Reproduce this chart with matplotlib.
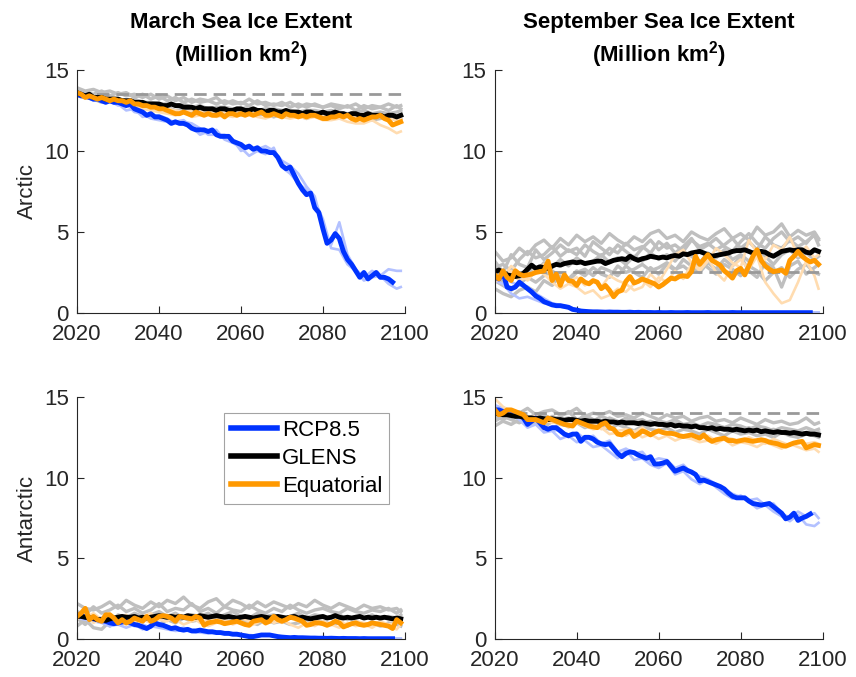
import numpy as np
import matplotlib
matplotlib.use("Agg")
import matplotlib.pyplot as plt

plt.rcParams["font.family"] = ["Liberation Sans", "DejaVu Sans"]
plt.rcParams["mathtext.fontset"] = "custom"
plt.rcParams["mathtext.rm"] = "Liberation Sans"
plt.rcParams["mathtext.bf"] = "Liberation Sans:bold"

# years for ensemble means, the rcp mean (stops early) and the individual members
years = np.arange(2020, 2100)
rcp_years = np.arange(2020, 2098)
member_years = np.array(list(range(2020, 2099, 2)) + [2099])

# ---------------- march, arctic ----------------
mar_arc_rcp = [13.5, 13.4, 13.4, 13.3, 13.2, 13.2, 13.1, 13.0, 13.1, 13.0,
               13.0, 12.9, 12.8, 12.9, 12.6, 12.5, 12.4, 12.2, 12.3, 12.1,
               12.1, 12.0, 11.9, 11.7, 11.8, 11.7, 11.7, 11.6, 11.4, 11.3,
               11.3, 11.3, 11.2, 11.3, 11.0, 10.9, 10.9, 10.9, 10.6, 10.5,
               10.4, 10.2, 10.3, 10.1, 10.2, 10.0, 10.0, 9.9, 9.9, 9.6,
               9.1, 8.9, 9.0, 8.5, 8.0, 7.6, 7.3, 7.4, 6.5, 6.2,
               5.2, 4.3, 4.5, 4.9, 4.6, 3.8, 3.3, 3.0, 2.6, 2.2,
               2.5, 2.1, 2.3, 2.5, 2.2, 2.2, 2.1, 1.9]
mar_arc_glens = [13.6, 13.5, 13.4, 13.5, 13.3, 13.3, 13.3, 13.2, 13.2, 13.2,
                 13.2, 13.1, 13.1, 13.1, 13.0, 13.0, 13.0, 12.9, 12.9, 12.9,
                 12.9, 12.8, 12.8, 12.9, 12.8, 12.8, 12.7, 12.7, 12.7, 12.6,
                 12.7, 12.6, 12.6, 12.6, 12.5, 12.6, 12.6, 12.5, 12.5, 12.6,
                 12.6, 12.5, 12.5, 12.6, 12.5, 12.5, 12.4, 12.5, 12.5, 12.4,
                 12.4, 12.5, 12.4, 12.4, 12.4, 12.3, 12.4, 12.4, 12.3, 12.3,
                 12.4, 12.3, 12.3, 12.4, 12.3, 12.3, 12.2, 12.3, 12.3, 12.2,
                 12.2, 12.3, 12.2, 12.2, 12.2, 12.1, 12.2, 12.2, 12.1, 12.2]
mar_arc_eq = [13.6, 13.5, 13.3, 13.4, 13.3, 13.2, 13.3, 13.2, 13.1, 13.2,
              13.1, 13.1, 13.0, 13.1, 12.9, 12.9, 12.8, 12.8, 12.7, 12.7,
              12.6, 12.6, 12.5, 12.4, 12.3, 12.3, 12.4, 12.3, 12.2, 12.4,
              12.3, 12.2, 12.3, 12.2, 12.2, 12.3, 12.1, 12.3, 12.3, 12.2,
              12.3, 12.2, 12.3, 12.2, 12.3, 12.4, 12.2, 12.2, 12.3, 12.2,
              12.1, 12.3, 12.2, 12.2, 12.1, 12.2, 12.1, 12.2, 12.2, 12.1,
              12.0, 12.0, 12.1, 12.1, 12.2, 12.1, 12.2, 12.0, 11.9, 12.0,
              11.9, 12.0, 12.1, 12.1, 12.2, 12.0, 11.9, 11.6, 11.7, 11.8]
mar_arc_rcp_members = [
    [13.7, 13.5, 13.3, 13.0, 13.1, 12.8, 12.9, 12.4, 12.3, 12.0,
     11.9, 11.8, 11.8, 11.9, 11.5, 11.0, 11.2, 11.3, 10.7, 10.5,
     10.2, 9.7, 10.0, 9.8, 10.2, 9.0, 8.6, 8.0, 7.6, 6.9,
     5.8, 4.0, 3.9, 3.0, 2.6, 2.0, 2.2, 2.3, 1.8, 1.5, 1.6],
    [13.6, 13.4, 13.1, 13.2, 13.0, 12.9, 12.5, 12.6, 12.1, 12.2,
     12.2, 12.0, 11.7, 11.8, 11.7, 11.4, 11.0, 11.0, 11.0, 10.7,
     10.0, 10.2, 10.1, 10.3, 10.0, 9.4, 9.1, 8.6, 7.8, 7.2,
     5.3, 4.2, 5.6, 3.6, 2.7, 2.2, 2.6, 2.3, 2.7, 2.6, 2.6],
]
mar_arc_eq_members = [
    [13.7, 13.4, 13.3, 13.2, 13.0, 13.1, 12.9, 12.7, 12.6, 12.5,
     12.4, 12.3, 12.2, 12.4, 12.1, 12.2, 12.3, 12.1, 12.2, 12.1,
     12.2, 12.3, 12.1, 12.0, 12.2, 12.1, 12.0, 12.1, 12.0, 12.1,
     11.9, 11.9, 12.0, 11.8, 11.7, 11.7, 11.9, 11.6, 11.4, 11.1, 11.2],
    [13.5, 13.3, 13.4, 13.2, 13.3, 13.1, 13.1, 13.0, 12.9, 12.8,
     12.7, 12.6, 12.5, 12.4, 12.5, 12.4, 12.5, 12.3, 12.4, 12.5,
     12.4, 12.3, 12.4, 12.5, 12.3, 12.4, 12.3, 12.4, 12.2, 12.3,
     12.2, 12.3, 12.2, 12.3, 12.1, 12.2, 12.2, 12.1, 12.0, 11.9, 12.0],
]
mar_arc_glens_members = [
    [13.8, 13.6, 13.5, 13.7, 13.4, 13.6, 13.4, 13.5, 13.3, 13.5,
     13.2, 13.4, 13.1, 13.3, 13.0, 13.2, 13.1, 13.3, 12.9, 13.1,
     12.9, 13.2, 12.9, 13.0, 12.8, 13.0, 12.7, 12.9, 12.7, 12.9,
     12.7, 12.8, 12.6, 12.8, 12.5, 12.8, 12.6, 12.7, 12.5, 12.8, 12.6],
    [13.4, 13.3, 13.2, 13.0, 13.1, 12.9, 13.0, 12.8, 12.7, 12.8,
     12.6, 12.7, 12.5, 12.6, 12.4, 12.5, 12.3, 12.5, 12.3, 12.4,
     12.2, 12.4, 12.2, 12.3, 12.1, 12.3, 12.2, 12.2, 12.0, 12.2,
     12.1, 12.0, 12.1, 12.2, 12.0, 12.1, 11.9, 12.0, 12.1, 11.9, 12.0],
    [13.6, 13.5, 13.4, 13.3, 13.3, 13.2, 13.1, 13.2, 13.0, 13.0,
     12.9, 12.9, 12.8, 12.9, 12.7, 12.8, 12.6, 12.7, 12.7, 12.6,
     12.6, 12.7, 12.5, 12.6, 12.6, 12.5, 12.5, 12.4, 12.5, 12.5,
     12.4, 12.5, 12.4, 12.3, 12.4, 12.5, 12.3, 12.4, 12.3, 12.4, 12.5],
    [13.9, 13.7, 13.8, 13.6, 13.7, 13.5, 13.6, 13.3, 13.5, 13.2,
     13.4, 13.1, 13.3, 13.0, 13.2, 13.0, 13.1, 12.9, 13.1, 12.9,
     13.0, 12.8, 13.1, 12.8, 12.9, 12.8, 13.0, 12.7, 12.9, 12.8,
     12.7, 12.9, 12.8, 12.7, 12.9, 12.6, 12.8, 12.7, 12.9, 12.7, 12.8],
]

# ---------------- september, arctic ----------------
sep_arc_rcp = [2.2, 2.1, 2.5, 1.6, 1.5, 1.6, 1.9, 1.7, 1.5, 1.3,
               1.05, 0.9, 0.7, 0.6, 0.5, 0.45, 0.45, 0.4, 0.35, 0.22,
               0.18, 0.12, 0.1, 0.08, 0.07, 0.07, 0.06, 0.05, 0.06, 0.05,
               0.05, 0.04, 0.04, 0.05, 0.03, 0.04, 0.03, 0.03, 0.03, 0.02,
               0.03, 0.02, 0.02, 0.03, 0.02, 0.02, 0.02, 0.03, 0.02, 0.02,
               0.02, 0.02, 0.03, 0.02, 0.02, 0.02, 0.02, 0.02, 0.03, 0.02,
               0.02, 0.02, 0.02, 0.02, 0.02, 0.02, 0.02, 0.02, 0.02, 0.02,
               0.02, 0.02, 0.02, 0.02, 0.02, 0.02, 0.02, 0.02]
sep_arc_glens = [2.55, 2.65, 2.5, 2.35, 2.3, 2.25, 2.3, 2.45, 2.7, 2.95,
                 2.75, 2.85, 2.8, 2.75, 2.9, 3.0, 2.95, 3.05, 3.1, 3.15,
                 3.1, 3.15, 3.05, 3.1, 3.15, 3.2, 3.2, 3.05, 3.15, 3.25,
                 3.3, 3.35, 3.3, 3.5, 3.35, 3.25, 3.35, 3.4, 3.5, 3.45,
                 3.4, 3.45, 3.4, 3.5, 3.55, 3.5, 3.65, 3.6, 3.7, 3.75,
                 3.8, 3.7, 3.6, 3.5, 3.55, 3.6, 3.65, 3.7, 3.8, 3.85,
                 3.85, 3.9, 3.8, 3.7, 3.75, 3.8, 3.75, 3.6, 3.5, 3.65,
                 3.8, 3.85, 3.9, 3.85, 3.9, 3.9, 3.75, 3.7, 3.9, 3.8]
sep_arc_eq = [2.35, 2.1, 2.6, 2.2, 2.0, 2.6, 2.4, 2.3, 2.35, 2.4,
              2.5, 2.55, 2.6, 3.2, 2.0, 2.4, 1.7, 2.35, 2.0, 1.95,
              1.7, 2.1, 1.9, 1.8, 2.0, 1.9, 1.5, 1.7, 1.4, 1.0,
              1.3, 1.4, 1.95, 2.25, 1.85, 1.95, 2.1, 2.0, 1.9, 1.8,
              1.6, 1.75, 1.95, 2.15, 2.1, 2.25, 2.3, 2.25, 2.55, 3.5,
              3.0, 3.3, 3.6, 3.25, 3.1, 2.95, 2.6, 2.4, 2.15, 2.6,
              2.75, 2.35, 2.9, 3.5, 3.9, 3.25, 2.9, 2.7, 2.55, 2.6,
              2.65, 2.45, 3.25, 3.5, 3.8, 3.5, 3.3, 3.15, 3.25, 3.0]
sep_arc_rcp_members = [
    [2.0, 1.8, 1.2, 0.9, 1.0, 0.8, 0.6, 0.5, 0.4, 0.3,
     0.15, 0.1, 0.08, 0.05, 0.05, 0.04, 0.04, 0.03, 0.03, 0.03,
     0.03, 0.03, 0.03, 0.03, 0.03, 0.03, 0.03, 0.03, 0.03, 0.03,
     0.03, 0.03, 0.03, 0.03, 0.03, 0.03, 0.03, 0.03, 0.03, 0.03, 0.03],
    [2.4, 2.6, 1.9, 1.7, 1.6, 1.2, 0.9, 0.6, 0.5, 0.4,
     0.2, 0.15, 0.1, 0.06, 0.05, 0.05, 0.04, 0.04, 0.04, 0.04,
     0.04, 0.04, 0.04, 0.04, 0.04, 0.04, 0.04, 0.04, 0.04, 0.04,
     0.04, 0.04, 0.04, 0.04, 0.04, 0.04, 0.04, 0.04, 0.04, 0.04, 0.04],
]
sep_arc_eq_members = [
    [1.9, 2.4, 2.6, 2.0, 2.2, 2.7, 2.4, 1.9, 1.5, 1.8,
     1.6, 1.2, 1.4, 0.9, 1.1, 1.5, 1.3, 1.8, 2.0, 1.6,
     2.2, 1.9, 2.6, 2.1, 3.0, 2.8, 3.4, 2.5, 2.0, 2.9,
     3.3, 2.7, 3.5, 1.9, 1.2, 0.6, 0.8, 1.9, 3.2, 2.3, 1.5],
    [2.6, 2.2, 2.9, 2.5, 2.0, 2.6, 3.0, 2.2, 2.5, 1.9,
     2.2, 1.7, 2.0, 1.6, 2.3, 2.0, 1.8, 1.4, 1.6, 2.4,
     1.9, 2.7, 3.6, 3.9, 3.1, 2.6, 3.2, 4.0, 3.6, 3.1,
     2.8, 4.5, 3.7, 3.3, 4.2, 3.9, 4.7, 3.5, 4.1, 3.4, 3.6],
]
sep_arc_glens_members = [
    [3.8, 3.2, 3.4, 4.0, 3.6, 4.2, 4.5, 4.0, 4.6, 4.2,
     4.8, 4.4, 4.7, 4.3, 4.9, 4.5, 4.2, 4.7, 4.4, 4.9,
     5.1, 4.6, 4.8, 4.4, 5.0, 4.7, 4.5, 4.9, 5.2, 4.6,
     4.9, 4.5, 5.3, 4.8, 5.0, 5.5, 4.7, 5.1, 4.8, 5.0, 4.6],
    [2.8, 3.0, 2.6, 3.3, 3.8, 3.4, 3.6, 4.1, 3.5, 3.9,
     3.6, 4.2, 3.8, 3.5, 4.0, 3.7, 4.3, 3.9, 4.1, 3.7,
     4.4, 4.0, 4.2, 3.8, 4.5, 4.1, 4.3, 3.9, 4.2, 4.6,
     4.0, 4.4, 3.9, 4.7, 4.2, 4.0, 4.5, 4.1, 4.4, 4.8, 4.2],
    [2.2, 1.9, 2.4, 2.1, 2.7, 2.5, 3.1, 2.8, 3.3, 2.9,
     3.4, 3.0, 3.2, 3.6, 3.1, 3.4, 3.0, 3.5, 3.2, 3.7,
     3.3, 3.6, 3.2, 3.8, 3.5, 3.1, 3.7, 3.4, 3.9, 3.3,
     3.6, 3.2, 3.8, 3.5, 3.0, 3.6, 3.9, 3.4, 3.7, 3.3, 3.5],
    [1.5, 1.2, 1.0, 1.4, 1.6, 1.3, 2.0, 1.7, 2.4, 2.1,
     2.6, 2.3, 2.8, 2.4, 2.2, 2.9, 2.5, 2.7, 3.0, 2.6,
     2.8, 3.1, 2.7, 2.9, 2.5, 3.2, 2.8, 2.4, 3.0, 2.7,
     2.3, 2.9, 2.6, 2.0, 2.5, 2.8, 2.2, 2.7, 3.0, 2.5, 2.4],
    [3.2, 2.5, 3.6, 3.0, 2.8, 3.9, 3.3, 3.7, 4.2, 3.8,
     4.0, 3.5, 4.4, 4.0, 3.6, 4.2, 3.8, 3.4, 4.0, 4.5,
     3.9, 4.3, 3.7, 4.1, 4.6, 3.9, 4.2, 4.6, 4.1, 3.8,
     4.4, 4.9, 4.3, 4.0, 4.6, 5.0, 4.4, 4.7, 4.3, 4.9, 4.5],
    [2.0, 1.7, 1.4, 1.8, 2.2, 1.9, 2.3, 2.6, 2.2, 2.0,
     2.5, 2.7, 2.3, 2.8, 2.6, 2.3, 2.9, 2.5, 2.2, 2.8,
     2.4, 3.0, 2.6, 3.3, 2.9, 2.5, 3.1, 2.7, 3.3, 2.9,
     3.5, 2.6, 2.2, 3.1, 2.8, 1.6, 2.9, 3.2, 2.4, 2.8, 3.0],
]

# ---------------- march, antarctic ----------------
mar_ant_rcp = [1.5, 1.45, 1.35, 1.3, 1.25, 1.2, 1.15, 1.1, 1.0, 0.95,
               1.0, 1.05, 1.1, 1.0, 0.9, 0.85, 0.75, 0.65, 0.8, 1.0,
               0.9, 0.85, 0.75, 0.65, 0.7, 0.6, 0.55, 0.6, 0.5, 0.5,
               0.55, 0.5, 0.45, 0.45, 0.4, 0.4, 0.35, 0.35, 0.3, 0.3,
               0.25, 0.2, 0.15, 0.15, 0.2, 0.25, 0.25, 0.25, 0.2, 0.15,
               0.12, 0.1, 0.08, 0.1, 0.08, 0.08, 0.07, 0.06, 0.06, 0.05,
               0.05, 0.04, 0.05, 0.04, 0.03, 0.04, 0.03, 0.03, 0.03, 0.02,
               0.03, 0.02, 0.02, 0.02, 0.02, 0.02, 0.02, 0.02]
mar_ant_glens = [1.4, 1.4, 1.35, 1.3, 1.3, 1.2, 1.2, 1.15, 1.25, 1.3,
                 1.35, 1.4, 1.35, 1.35, 1.4, 1.3, 1.35, 1.3, 1.35, 1.4,
                 1.45, 1.4, 1.35, 1.4, 1.35, 1.4, 1.35, 1.45, 1.4, 1.35,
                 1.45, 1.4, 1.35, 1.4, 1.45, 1.4, 1.35, 1.4, 1.35, 1.3,
                 1.35, 1.4, 1.35, 1.3, 1.35, 1.4, 1.35, 1.3, 1.35, 1.4,
                 1.35, 1.3, 1.35, 1.4, 1.3, 1.35, 1.3, 1.25, 1.3, 1.35,
                 1.4, 1.3, 1.35, 1.45, 1.35, 1.3, 1.35, 1.3, 1.35, 1.4,
                 1.3, 1.35, 1.3, 1.35, 1.3, 1.35, 1.3, 1.25, 1.3, 1.25]
mar_ant_eq = [1.4, 1.6, 1.9, 1.2, 1.4, 1.2, 1.1, 1.5, 1.5, 1.3,
              1.0, 1.2, 1.0, 1.1, 1.3, 1.2, 1.1, 1.4, 1.1, 1.2,
              1.4, 1.45, 1.4, 1.3, 1.1, 1.4, 1.35, 1.3, 1.25, 1.4,
              1.3, 0.85, 1.0, 1.05, 1.1, 1.05, 0.95, 1.0, 1.05, 1.1,
              1.0, 0.9, 0.85, 1.1, 1.15, 1.2, 1.0, 1.1, 1.4, 1.2,
              1.1, 1.2, 1.35, 1.3, 1.2, 1.1, 0.85, 0.9, 1.0, 1.0,
              0.95, 0.85, 0.95, 1.1, 1.0, 0.75, 0.85, 0.95, 1.0, 0.9,
              0.85, 0.9, 1.0, 0.95, 0.9, 0.85, 0.8, 0.65, 1.2, 1.0]
mar_ant_rcp_members = [
    [1.3, 1.2, 1.1, 1.0, 0.8, 0.9, 0.7, 0.9, 0.6, 0.8,
     0.7, 0.6, 0.5, 0.55, 0.45, 0.4, 0.35, 0.4, 0.3, 0.25,
     0.2, 0.15, 0.2, 0.3, 0.15, 0.1, 0.08, 0.06, 0.05, 0.05,
     0.04, 0.04, 0.03, 0.03, 0.03, 0.02, 0.02, 0.02, 0.02, 0.02, 0.02],
    [1.6, 1.5, 1.4, 1.3, 1.1, 1.2, 1.0, 0.8, 0.9, 0.7,
     1.0, 0.8, 0.6, 0.7, 0.5, 0.55, 0.45, 0.4, 0.35, 0.3,
     0.3, 0.25, 0.2, 0.25, 0.2, 0.15, 0.12, 0.1, 0.08, 0.07,
     0.06, 0.05, 0.05, 0.04, 0.04, 0.03, 0.03, 0.03, 0.03, 0.03, 0.03],
]
mar_ant_eq_members = [
    [1.2, 1.7, 1.0, 1.3, 1.6, 1.1, 0.9, 1.4, 1.2, 1.0,
     1.3, 1.5, 1.2, 0.9, 1.1, 1.3, 0.8, 1.0, 1.2, 0.9,
     1.1, 0.8, 1.0, 1.3, 1.0, 1.2, 0.9, 0.7, 1.0, 0.8,
     1.1, 0.9, 0.7, 1.0, 0.8, 0.9, 0.7, 1.0, 0.8, 0.6, 0.9],
    [1.5, 1.3, 1.6, 1.2, 1.4, 1.3, 1.5, 1.0, 1.4, 1.6,
     1.2, 1.1, 1.5, 1.3, 1.4, 1.0, 1.2, 1.4, 0.9, 1.2,
     1.3, 1.1, 1.4, 0.9, 1.2, 1.0, 1.3, 1.1, 0.9, 1.2,
     1.0, 0.9, 1.2, 0.8, 1.1, 1.0, 0.9, 1.1, 0.9, 1.0, 1.1],
]
mar_ant_glens_members = [
    [2.2, 1.9, 1.8, 2.0, 2.3, 1.9, 2.4, 2.1, 1.9, 2.3,
     2.0, 2.4, 2.2, 2.6, 2.1, 1.9, 2.3, 2.5, 2.0, 2.4,
     2.2, 1.9, 2.3, 2.0, 2.3, 2.1, 1.9, 2.2, 2.0, 2.4,
     2.1, 1.9, 2.2, 2.0, 1.8, 2.1, 1.9, 2.0, 1.8, 1.9, 1.7],
    [1.7, 1.5, 2.0, 1.6, 1.8, 2.1, 1.7, 1.9, 1.6, 1.8,
     2.2, 1.7, 1.9, 1.8, 2.2, 1.7, 1.9, 1.6, 2.0, 1.8,
     1.7, 2.1, 1.8, 1.6, 1.9, 1.7, 2.1, 1.8, 1.6, 1.8,
     1.9, 1.7, 1.6, 1.9, 1.7, 1.6, 1.8, 1.7, 1.9, 1.6, 1.8],
    [0.8, 1.2, 0.7, 0.6, 1.1, 0.9, 1.2, 1.0, 1.3, 1.1,
     0.9, 1.2, 1.0, 1.3, 1.1, 1.2, 0.9, 1.1, 1.3, 1.0,
     1.2, 1.1, 0.9, 1.2, 1.0, 1.1, 0.9, 1.0, 1.2, 0.9,
     1.1, 0.9, 1.0, 0.8, 1.1, 0.9, 1.0, 0.8, 1.0, 0.9, 0.8],
    [1.3, 0.9, 1.4, 1.2, 0.8, 1.5, 1.3, 1.6, 1.4, 1.5,
     1.7, 1.4, 1.6, 1.3, 1.5, 1.4, 1.6, 1.3, 1.5, 1.7,
     1.4, 1.3, 1.6, 1.4, 1.5, 1.3, 1.4, 1.6, 1.3, 1.5,
     1.4, 1.3, 1.5, 1.2, 1.4, 1.3, 1.5, 1.2, 1.4, 1.3, 1.5],
]

# ---------------- september, antarctic ----------------
sep_ant_rcp = [14.2, 14.2, 14.1, 14.1, 14.1, 14.0, 14.0, 13.7, 13.3, 13.5,
               13.7, 13.4, 13.1, 13.0, 13.1, 13.1, 12.9, 12.7, 12.6, 12.7,
               12.7, 12.25, 12.5, 12.5, 12.4, 12.2, 12.1, 12.05, 12.1, 11.8,
               11.5, 11.3, 11.5, 11.6, 11.55, 11.4, 11.3, 11.2, 11.3, 10.85,
               10.85, 10.9, 11.0, 10.7, 10.4, 10.5, 10.6, 10.45, 10.35, 10.2,
               9.8, 9.85, 9.75, 9.65, 9.55, 9.45, 9.3, 9.05, 8.85, 8.75,
               8.75, 8.75, 8.55, 8.4, 8.35, 8.3, 8.35, 8.4, 8.2, 8.0,
               7.8, 7.45, 7.55, 7.8, 7.35, 7.5, 7.6, 7.75]
sep_ant_glens = [14.0, 13.95, 13.9, 13.9, 13.85, 13.8, 13.8, 13.75, 13.7, 13.7,
                 13.65, 13.7, 13.65, 13.6, 13.65, 13.6, 13.6, 13.55, 13.6, 13.6,
                 13.55, 13.5, 13.55, 13.5, 13.5, 13.5, 13.45, 13.5, 13.45, 13.45,
                 13.4, 13.45, 13.4, 13.4, 13.4, 13.35, 13.4, 13.35, 13.3, 13.35,
                 13.3, 13.3, 13.25, 13.3, 13.2, 13.25, 13.2, 13.2, 13.15, 13.2,
                 13.1, 13.1, 13.05, 13.1, 13.0, 13.05, 13.0, 13.0, 12.95, 13.0,
                 12.95, 12.9, 12.95, 12.9, 12.95, 12.85, 12.9, 12.85, 12.8, 12.85,
                 12.8, 12.8, 12.75, 12.8, 12.75, 12.7, 12.75, 12.7, 12.7, 12.65]
sep_ant_eq = [14.2, 13.9, 14.0, 14.2, 14.2, 14.1, 14.0, 13.9, 13.6, 13.6,
              13.6, 13.5, 13.4, 13.7, 13.6, 13.5, 13.4, 13.3, 13.25, 13.2,
              13.5, 13.4, 13.3, 13.2, 13.15, 13.1, 13.3, 13.4, 13.1, 13.0,
              12.7, 12.65, 12.8, 12.9, 12.55, 12.7, 12.9, 12.8, 12.65, 12.8,
              12.9, 12.8, 12.75, 12.75, 12.7, 12.6, 12.55, 12.6, 12.65, 12.55,
              12.45, 12.65, 12.4, 12.25, 12.35, 12.4, 12.45, 12.3, 12.3, 12.25,
              12.3, 12.35, 12.3, 12.25, 12.3, 12.35, 12.3, 12.2, 12.15, 12.1,
              12.0, 11.95, 12.05, 12.15, 12.2, 12.25, 11.85, 11.95, 12.05, 12.0]
sep_ant_rcp_members = [
    [14.3, 14.0, 13.9, 13.6, 13.1, 13.3, 12.8, 12.9, 12.4, 12.6,
     12.2, 12.3, 11.9, 12.0, 11.6, 11.2, 11.7, 11.1, 11.2, 10.8,
     10.6, 10.9, 10.2, 10.4, 9.9, 9.6, 9.9, 9.4, 9.0, 8.7,
     8.9, 8.5, 8.1, 8.3, 7.9, 7.6, 7.3, 7.7, 7.1, 7.0, 7.2],
    [14.5, 14.3, 14.1, 13.8, 13.5, 13.6, 13.2, 12.9, 13.0, 12.5,
     12.8, 12.4, 12.6, 12.1, 12.3, 11.6, 11.8, 11.5, 11.6, 11.0,
     11.2, 11.1, 10.6, 10.8, 10.3, 10.1, 9.9, 9.6, 9.3, 9.0,
     8.8, 8.6, 8.7, 8.3, 8.4, 7.8, 7.5, 7.9, 7.6, 7.8, 7.5],
]
sep_ant_eq_members = [
    [14.9, 14.4, 14.1, 13.9, 13.8, 13.5, 13.6, 13.4, 13.5, 13.1,
     13.4, 13.2, 13.0, 13.1, 12.7, 12.8, 12.6, 12.9, 12.5, 12.7,
     12.4, 12.6, 12.3, 12.5, 12.4, 12.2, 12.3, 12.1, 12.4, 12.0,
     12.2, 12.1, 11.9, 12.2, 12.0, 11.8, 12.1, 11.9, 11.7, 11.8, 11.6],
    [14.0, 14.2, 13.9, 14.0, 13.7, 13.8, 13.6, 13.5, 13.3, 13.4,
     13.6, 13.2, 13.4, 13.0, 13.2, 12.9, 13.0, 12.8, 13.1, 12.7,
     12.9, 12.6, 12.8, 12.5, 12.7, 12.4, 12.6, 12.3, 12.5, 12.4,
     12.2, 12.5, 12.3, 12.1, 12.4, 12.2, 12.0, 12.3, 12.1, 12.2, 12.1],
]
sep_ant_glens_members = [
    [14.4, 14.1, 14.2, 14.0, 14.3, 13.9, 14.1, 14.2, 13.9, 14.0,
     14.3, 13.8, 14.0, 13.9, 14.1, 13.8, 13.9, 13.7, 14.0, 13.8,
     13.6, 13.9, 13.7, 13.8, 13.5, 13.7, 13.8, 13.5, 13.6, 13.4,
     13.7, 13.5, 13.3, 13.6, 13.4, 13.5, 13.3, 13.4, 13.7, 13.3, 13.4],
    [13.2, 13.5, 13.3, 13.6, 13.2, 13.4, 13.1, 13.5, 13.3, 13.2,
     13.4, 13.1, 13.3, 13.2, 13.0, 13.3, 13.1, 12.9, 13.2, 13.0,
     12.9, 13.1, 12.8, 13.0, 12.9, 12.7, 13.0, 12.8, 12.6, 12.9,
     12.7, 12.8, 12.6, 12.7, 12.5, 12.8, 12.6, 12.5, 12.7, 12.6, 12.5],
    [13.8, 13.6, 13.9, 13.7, 13.8, 13.6, 13.9, 13.6, 13.8, 14.1,
     13.6, 13.7, 13.5, 13.8, 13.6, 13.4, 13.7, 13.5, 13.6, 13.3,
     13.5, 13.4, 13.6, 13.3, 13.4, 13.2, 13.4, 13.3, 13.1, 13.3,
     13.2, 13.0, 13.2, 13.1, 12.9, 13.1, 13.0, 12.9, 13.1, 12.9, 13.0],
    [13.5, 13.8, 13.6, 13.4, 13.7, 13.9, 13.5, 13.8, 13.6, 13.7,
     13.5, 13.9, 13.6, 13.4, 13.7, 13.5, 13.3, 13.6, 13.4, 13.5,
     13.3, 13.2, 13.4, 13.1, 13.3, 13.2, 13.0, 13.2, 13.1, 13.0,
     12.9, 13.1, 12.9, 12.8, 13.0, 12.8, 12.9, 12.7, 12.8, 12.9, 12.8],
]

# reference (control) extents shown as dashed lines
mar_arc_ref = 13.5
sep_arc_ref = 2.5
sep_ant_ref = 14.0

BLUE = "#0033ff"
ORANGE = "#ff9900"
LIGHT_BLUE = "#b3c1ff"
LIGHT_ORANGE = "#ffdcb0"
GRAY = "#bfbfbf"
AXIS_COLOR = "#262626"


def draw_panel(ax, rcp, glens, eq, rcp_members, eq_members, glens_members, ref=None):
    # ensemble members first so the means sit on top
    for m in glens_members:
        ax.plot(member_years, m, color=GRAY, lw=2.4, solid_joinstyle="round")
    for m in rcp_members:
        ax.plot(member_years, m, color=LIGHT_BLUE, lw=1.9, solid_joinstyle="round")
    for m in eq_members:
        ax.plot(member_years, m, color=LIGHT_ORANGE, lw=1.9, solid_joinstyle="round")
    if ref is not None:
        ax.hlines(ref, years[0], years[-1], colors="#999999", lw=2.0,
                  linestyles=(0, (4.5, 2.5)))
    ax.plot(rcp_years, rcp, color=BLUE, lw=3.5, label="RCP8.5")
    ax.plot(years, glens, color="black", lw=3.5, label="GLENS")
    ax.plot(years, eq, color=ORANGE, lw=3.5, label="Equatorial")

    ax.set_xlim(2020, 2100)
    ax.set_ylim(0, 15)
    ax.set_xticks([2020, 2040, 2060, 2080, 2100])
    ax.set_yticks([0, 5, 10, 15])
    ax.spines["top"].set_visible(False)
    ax.spines["right"].set_visible(False)
    for side in ["left", "bottom"]:
        ax.spines[side].set_color(AXIS_COLOR)
        ax.spines[side].set_linewidth(0.8)
    ax.tick_params(direction="in", length=5, width=0.8, colors=AXIS_COLOR,
                   labelsize=16)
    ax.tick_params(axis="x", pad=8)
    ax.tick_params(axis="y", pad=6)


fig = plt.figure(figsize=(8.56, 6.77), dpi=100)

ax1 = fig.add_axes([0.090, 0.5377, 0.383, 0.359])
ax2 = fig.add_axes([0.578, 0.5377, 0.383, 0.359])
ax3 = fig.add_axes([0.090, 0.0561, 0.383, 0.3575])
ax4 = fig.add_axes([0.578, 0.0561, 0.383, 0.3575])

draw_panel(ax1, mar_arc_rcp, mar_arc_glens, mar_arc_eq,
           mar_arc_rcp_members, mar_arc_eq_members, mar_arc_glens_members, mar_arc_ref)
draw_panel(ax2, sep_arc_rcp, sep_arc_glens, sep_arc_eq,
           sep_arc_rcp_members, sep_arc_eq_members, sep_arc_glens_members, sep_arc_ref)
draw_panel(ax3, mar_ant_rcp, mar_ant_glens, mar_ant_eq,
           mar_ant_rcp_members, mar_ant_eq_members, mar_ant_glens_members)
draw_panel(ax4, sep_ant_rcp, sep_ant_glens, sep_ant_eq,
           sep_ant_rcp_members, sep_ant_eq_members, sep_ant_glens_members, sep_ant_ref)

ax1.set_title("March Sea Ice Extent\n(Million km$^{\\mathbf{2}}$)",
              fontsize=16, fontweight="bold", pad=5, linespacing=1.25)
ax2.set_title("September Sea Ice Extent\n(Million km$^{\\mathbf{2}}$)",
              fontsize=16, fontweight="bold", pad=5, linespacing=1.25)

ax1.set_ylabel("Arctic", fontsize=16, color=AXIS_COLOR, labelpad=4)
ax3.set_ylabel("Antarctic", fontsize=16, color=AXIS_COLOR, labelpad=4)

leg = ax3.legend(loc="upper right", bbox_to_anchor=(0.951, 0.934), fontsize=16,
                 frameon=True, fancybox=False, edgecolor="#8c8c8c",
                 handlelength=2.1, handletextpad=0.2, labelspacing=0.32,
                 borderpad=0.3, borderaxespad=0)
leg.get_frame().set_linewidth(0.8)
for line in leg.get_lines():
    line.set_linewidth(4)

fig.savefig("out.png", dpi=100)
